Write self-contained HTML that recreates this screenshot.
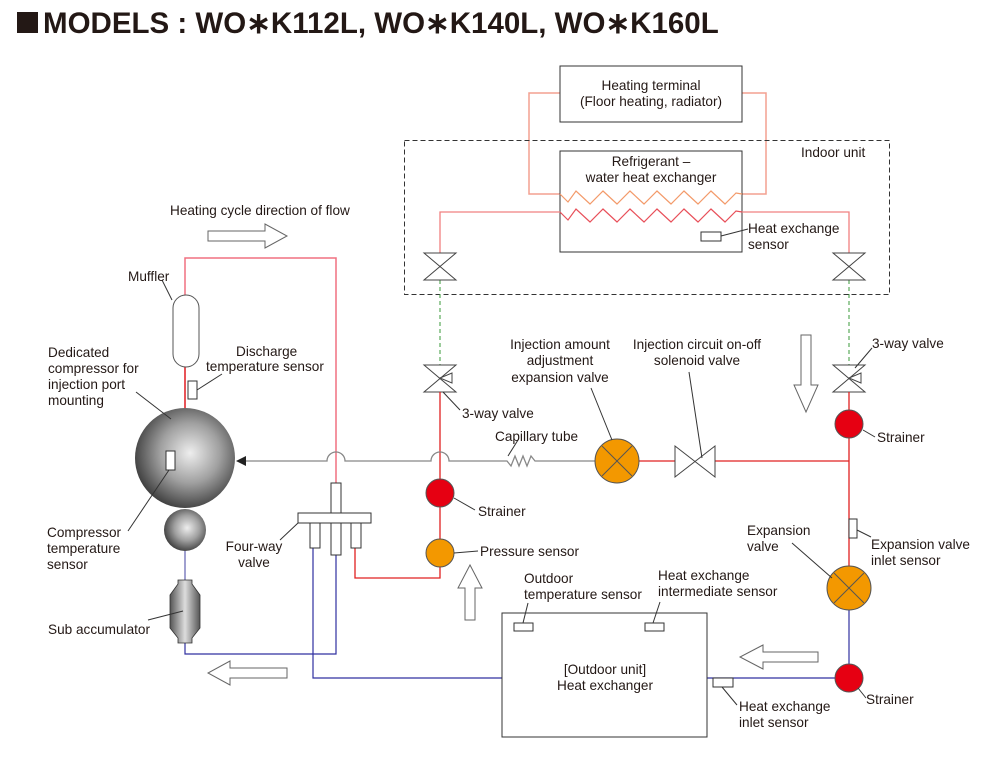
<!DOCTYPE html>
<html><head><meta charset="utf-8"><style>
html,body{margin:0;padding:0;background:#fff;}
svg{display:block;}
text{font-family:"Liberation Sans",sans-serif;font-size:13.6px;fill:#231815;}
</style></head><body>
<svg width="991" height="768" viewBox="0 0 991 768" xmlns="http://www.w3.org/2000/svg">
<defs>
<radialGradient id="sph" cx="0.55" cy="0.45" r="0.6">
<stop offset="0" stop-color="#eeeeee"/><stop offset="0.5" stop-color="#a0a0a0"/><stop offset="1" stop-color="#353535"/>
</radialGradient>
<linearGradient id="acc" x1="0" x2="1"><stop offset="0" stop-color="#555"/><stop offset="0.5" stop-color="#ddd"/><stop offset="1" stop-color="#555"/></linearGradient>
</defs>
<rect x="17" y="12" width="21" height="21" fill="#231815"/>
<text x="43" y="33" style="font-size:29.5px;font-weight:bold">MODELS : WO∗K112L, WO∗K140L, WO∗K160L</text>

<!-- heating terminal -->
<polyline points="560,93 529,93 529,194 560,194" fill="none" stroke="#f4a090" stroke-width="1.5"/>
<polyline points="742,93 766,93 766,194 742,194" fill="none" stroke="#f4a090" stroke-width="1.5"/>
<rect x="560" y="66" width="182" height="56" fill="#fff" stroke="#333" stroke-width="1"/>
<text x="651" y="90" text-anchor="middle">Heating terminal</text>
<text x="651" y="106" text-anchor="middle">(Floor heating, radiator)</text>

<rect x="404.5" y="140.5" width="485" height="154" fill="none" stroke="#333" stroke-dasharray="5,3"/>
<text x="801" y="157">Indoor unit</text>
<rect x="560" y="151" width="182" height="101" fill="#fff" stroke="#333"/>
<text x="651" y="166" text-anchor="middle">Refrigerant –</text>
<text x="651" y="182" text-anchor="middle">water heat exchanger</text>
<polyline points="560,194 568,202 576,191 590,204 603,191 617,204 630,191 644,204 657,191 671,204 684,191 698,204 711,191 725,204 736,193 742,194" fill="none" stroke="#f39a6a" stroke-width="1.2"/>
<polyline points="560,212 568,220 576,209 590,222 603,209 617,222 630,209 644,222 657,209 671,222 684,209 698,222 711,209 725,222 736,211 742,212" fill="none" stroke="#e8505a" stroke-width="1.2"/>
<rect x="701" y="232" width="20" height="9" fill="#fff" stroke="#333"/>
<line x1="721" y1="236" x2="748" y2="229" stroke="#333"/>
<text x="748" y="233">Heat exchange</text>
<text x="748" y="249">sensor</text>

<!-- pipes -->
<polyline points="560,212 440,212 440,253" fill="none" stroke="#f08080" stroke-width="1.3"/>
<polyline points="742,212 849,212 849,253" fill="none" stroke="#f08080" stroke-width="1.3"/>
<line x1="440" y1="280" x2="440" y2="365" stroke="#3a9a3a" stroke-dasharray="4,3"/>
<line x1="849" y1="280" x2="849" y2="365" stroke="#3a9a3a" stroke-dasharray="4,3"/>
<g fill="#fff" stroke="#444">
<path d="M424,253 L456,253 L424,280 L456,280 Z"/>
<path d="M833,253 L865,253 L833,280 L865,280 Z"/>
<path d="M424,365 L456,365 L424,392 L456,392 Z"/>
<path d="M440,378 L452,373 L452,383 Z"/>
<path d="M833,365 L865,365 L833,392 L865,392 Z"/>
<path d="M849,378 L861,373 L861,383 Z"/>
</g>
<line x1="443" y1="392" x2="460" y2="410" stroke="#333"/>
<text x="462" y="418">3-way valve</text>
<line x1="855" y1="368" x2="872" y2="348" stroke="#333"/>
<text x="872" y="348">3-way valve</text>

<!-- red lines -->
<polyline points="440,392 440,578 355,578 355,548" fill="none" stroke="#e02020" stroke-width="1.3"/>
<polyline points="185,408 185,258 336,258 336,483" fill="none" stroke="#f07080" stroke-width="1.5"/>
<line x1="639" y1="461" x2="675" y2="461" stroke="#e02020" stroke-width="1.3"/>
<line x1="715" y1="461" x2="849" y2="461" stroke="#e02020" stroke-width="1.3"/>
<line x1="849" y1="392" x2="849" y2="566" stroke="#e02020" stroke-width="1.3"/>
<!-- blue lines -->
<line x1="849" y1="610" x2="849" y2="664" stroke="#3030a0" stroke-width="1.2"/>
<line x1="835" y1="678" x2="707" y2="678" stroke="#3030a0" stroke-width="1.2"/>
<polyline points="502,678 313,678 313,548" fill="none" stroke="#3030a0" stroke-width="1.2"/>
<polyline points="336,555 336,654 185,654 185,643" fill="none" stroke="#3030a0" stroke-width="1.2"/>
<line x1="185" y1="551" x2="185" y2="580" stroke="#6060b0" stroke-width="1.2"/>

<!-- gray injection line -->
<path d="M595,461 L535,461 L531,456 L527,466 L523,456 L519,466 L515,456 L511,466 L507,461 L449,461 A9,9 0 0 0 431,461 L345,461 A9,9 0 0 0 327,461 L243,461" fill="none" stroke="#888" stroke-width="1.3"/>
<polygon points="236,461 246,456 246,466" fill="#222"/>
<line x1="508" y1="456" x2="518" y2="440" stroke="#333"/>
<text x="495" y="441">Capillary tube</text>

<!-- compressor -->
<line x1="185" y1="367" x2="185" y2="408" stroke="#e02020" stroke-width="1.3"/>
<rect x="173" y="295" width="26" height="72" rx="13" fill="#fff" stroke="#555"/>
<line x1="172" y1="300" x2="162" y2="280" stroke="#333"/>
<text x="128" y="281">Muffler</text>
<rect x="188" y="381" width="9" height="18" fill="#fff" stroke="#333"/>
<line x1="197" y1="390" x2="222" y2="374" stroke="#333"/>
<text x="236" y="356">Discharge</text>
<text x="206" y="371">temperature sensor</text>
<circle cx="185" cy="458" r="50" fill="url(#sph)"/>
<circle cx="185" cy="530" r="21" fill="url(#sph)"/>
<rect x="166" y="451" width="9" height="19" fill="#fff" stroke="#333"/>
<line x1="136" y1="392" x2="171" y2="419" stroke="#333"/>
<text x="48" y="357">Dedicated</text>
<text x="48" y="373">compressor for</text>
<text x="48" y="389">injection port</text>
<text x="48" y="405">mounting</text>
<line x1="169" y1="470" x2="128" y2="531" stroke="#333"/>
<text x="47" y="537">Compressor</text>
<text x="47" y="553">temperature</text>
<text x="47" y="569">sensor</text>
<path d="M178,580 L192,580 L192,584 L200,595 L200,628 L192,638 L192,643 L178,643 L178,638 L170,628 L170,595 L178,584 Z" fill="url(#acc)" stroke="#333" stroke-width="0.8"/>
<line x1="183" y1="611" x2="148" y2="620" stroke="#333"/>
<text x="48" y="634">Sub accumulator</text>

<!-- four-way valve -->
<g fill="#fff" stroke="#333">
<rect x="331" y="483" width="10" height="30"/>
<rect x="310" y="523" width="10" height="25"/>
<rect x="331" y="523" width="10" height="32"/>
<rect x="351" y="523" width="10" height="25"/>
<rect x="298" y="513" width="73" height="10"/>
</g>
<line x1="298" y1="523" x2="280" y2="540" stroke="#333"/>
<text x="254" y="551" text-anchor="middle">Four-way</text>
<text x="254" y="567" text-anchor="middle">valve</text>

<!-- strainers & sensors -->
<g stroke="#555">
<circle cx="440" cy="493" r="14" fill="#e60012"/>
<circle cx="440" cy="553" r="14" fill="#f39800"/>
<circle cx="849" cy="424" r="14" fill="#e60012"/>
<circle cx="849" cy="678" r="14" fill="#e60012"/>
</g>
<line x1="454" y1="498" x2="475" y2="510" stroke="#333"/>
<text x="478" y="516">Strainer</text>
<line x1="454" y1="553" x2="478" y2="551" stroke="#333"/>
<text x="480" y="556">Pressure sensor</text>
<line x1="863" y1="430" x2="875" y2="437" stroke="#333"/>
<text x="877" y="442">Strainer</text>
<line x1="858" y1="688" x2="866" y2="698" stroke="#333"/>
<text x="866" y="704">Strainer</text>

<!-- expansion valves -->
<g stroke="#555"><circle cx="617" cy="461" r="22" fill="#f39800"/>
<line x1="602" y1="446" x2="632" y2="476"/><line x1="632" y1="446" x2="602" y2="476"/>
<circle cx="849" cy="588" r="22" fill="#f39800"/>
<line x1="834" y1="573" x2="864" y2="603"/><line x1="864" y1="573" x2="834" y2="603"/></g>
<line x1="591" y1="388" x2="612" y2="440" stroke="#333"/>
<text x="560" y="349" text-anchor="middle">Injection amount</text>
<text x="560" y="365" text-anchor="middle">adjustment</text>
<text x="560" y="382" text-anchor="middle">expansion valve</text>
<path d="M675,446 L715,477 L715,446 L675,477 Z" fill="#fff" stroke="#444"/>
<line x1="689" y1="372" x2="702" y2="458" stroke="#333"/>
<text x="697" y="349" text-anchor="middle">Injection circuit on-off</text>
<text x="697" y="365" text-anchor="middle">solenoid valve</text>
<rect x="849" y="519" width="8" height="19" fill="#fff" stroke="#333"/>
<line x1="857" y1="530" x2="871" y2="537" stroke="#333"/>
<text x="871" y="549">Expansion valve</text>
<text x="871" y="565">inlet sensor</text>
<line x1="792" y1="543" x2="832" y2="578" stroke="#333"/>
<text x="747" y="535">Expansion</text>
<text x="747" y="551">valve</text>

<!-- outdoor unit -->
<rect x="502" y="613" width="205" height="124" fill="#fff" stroke="#333"/>
<rect x="514" y="623" width="19" height="8" fill="#fff" stroke="#333"/>
<rect x="645" y="623" width="19" height="8" fill="#fff" stroke="#333"/>
<line x1="523" y1="623" x2="528" y2="603" stroke="#333"/>
<line x1="653" y1="623" x2="660" y2="602" stroke="#333"/>
<text x="524" y="583">Outdoor</text>
<text x="524" y="599">temperature sensor</text>
<text x="658" y="580">Heat exchange</text>
<text x="658" y="596">intermediate sensor</text>
<text x="605" y="674" text-anchor="middle">[Outdoor unit]</text>
<text x="605" y="690" text-anchor="middle">Heat exchanger</text>
<rect x="713" y="678" width="20" height="9" fill="#fff" stroke="#333"/>
<line x1="722" y1="687" x2="737" y2="705" stroke="#333"/>
<text x="739" y="711">Heat exchange</text>
<text x="739" y="727">inlet sensor</text>

<!-- arrows -->
<g fill="#fff" stroke="#666" stroke-width="1">
<path d="M208,231 L265,231 L265,224 L287,236 L265,248 L265,241 L208,241 Z"/>
<path d="M287,668 L230,668 L230,661 L208,673 L230,685 L230,678 L287,678 Z"/>
<path d="M818,652 L763,652 L763,645 L740,657 L763,669 L763,662 L818,662 Z"/>
<path d="M465,620 L465,588 L458,588 L470,565 L482,588 L475,588 L475,620 Z"/>
<path d="M801,335 L801,385 L794,385 L806,412 L818,385 L811,385 L811,335 Z"/>
</g>
<text x="170" y="215">Heating cycle direction of flow</text>
</svg>
</body></html>
